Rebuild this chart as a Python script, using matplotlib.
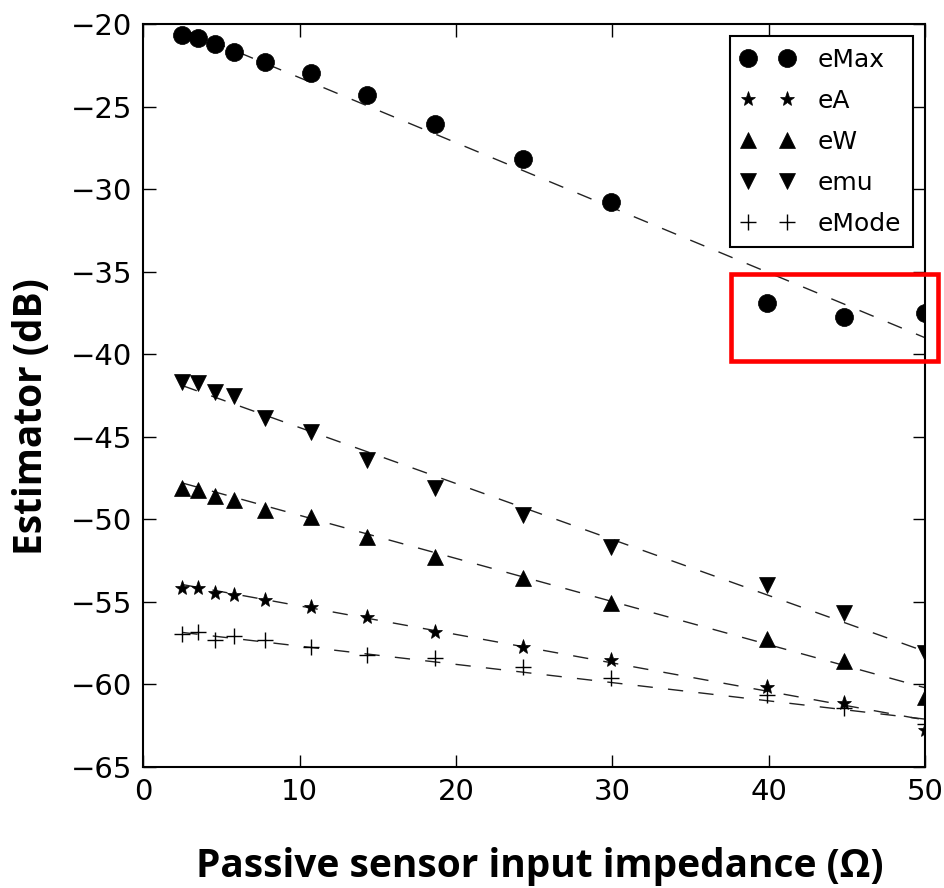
import matplotlib
matplotlib.use("Agg")
import matplotlib.pyplot as plt
from matplotlib.patches import Rectangle

# ---------------- data ----------------
impedance = [2.5, 3.5, 4.6, 5.8, 7.8, 10.7, 14.3, 18.65, 24.3, 29.9, 39.9, 44.8, 50.0]

eMax = [-20.67, -20.87, -21.21, -21.68, -22.28, -22.99, -24.30, -26.06, -28.18, -30.76, -36.92, -37.73, -37.52]
eA = [-54.14, -54.14, -54.44, -54.58, -54.89, -55.29, -55.94, -56.81, -57.72, -58.52, -60.13, -61.14, -62.76]
eW = [-48.12, -48.23, -48.59, -48.83, -49.44, -49.84, -51.05, -52.26, -53.57, -55.05, -57.27, -58.56, -60.74]
emu = [-41.67, -41.77, -42.31, -42.51, -43.88, -44.69, -46.41, -48.12, -49.74, -51.66, -54.00, -55.67, -58.10]
eMode = [-56.95, -56.81, -57.31, -57.07, -57.31, -57.72, -58.22, -58.42, -58.96, -59.63, -60.64, -61.45, -62.40]

series_names = ["eMax", "eA", "eW", "emu", "eMode"]

# fitted trend lines: value at first and last impedance
fit_x = [2.5, 50.0]
fit_eMax = [-20.3, -39.0]
fit_eA = [-53.95, -62.15]
fit_eW = [-47.8, -60.2]
fit_emu = [-41.9, -58.0]
fit_eMode = [-56.85, -62.1]

x_ticks = [0, 10, 20, 30, 40, 50]
y_ticks = [-65, -60, -55, -50, -45, -40, -35, -30, -25, -20]

# ---------------- figure ----------------
W, H = 945, 888
fig = plt.figure(figsize=(W / 100, H / 100), dpi=100)
ax_left, ax_right, ax_top, ax_bottom = 143.3, 925.0, 24.0, 767.0
ax = fig.add_axes([ax_left / W, 1 - ax_bottom / H,
                   (ax_right - ax_left) / W, (ax_bottom - ax_top) / H])

series = [eMax, eA, eW, emu, eMode]
fits = [fit_eMax, fit_eA, fit_eW, fit_emu, fit_eMode]
markers = ["o", "*", "^", "v", "+"]
msizes = [13, 11, 12, 12, 11]

for ys, fy in zip(series, fits):
    ax.plot(fit_x, fy, color="#222222", lw=1.0, dashes=(11, 11), zorder=2)

for name, ys, m, ms in zip(series_names, series, markers, msizes):
    kw = dict(color="black", markeredgecolor="black")
    if m == "+":
        kw["markeredgewidth"] = 1.0
    else:
        kw["markeredgewidth"] = 0.5
    ax.plot(impedance, ys, linestyle="none", marker=m, markersize=ms,
            label=name, zorder=3, **kw)

ax.set_xlim(0, 50)
ax.set_ylim(-65, -20)
ax.set_xticks(x_ticks)
ax.set_yticks(y_ticks)
ax.set_xticklabels([str(v) for v in x_ticks])
ax.set_yticklabels(["\u2212" + str(abs(v)) for v in y_ticks])

ax.tick_params(direction="in", length=9, width=1.0, top=True, right=True,
               labelsize=21, pad=8)
for sp in ax.spines.values():
    sp.set_linewidth(1.5)

leg = ax.legend(loc="upper right", numpoints=2, fontsize=18, frameon=True,
                fancybox=False, framealpha=1.0, edgecolor="black",
                borderaxespad=0.5, borderpad=0.45, labelspacing=0.68,
                handlelength=2.13, handletextpad=0.95)
leg.get_frame().set_linewidth(1.5)

# red highlight box
ax.add_patch(Rectangle((37.62, -40.39), 50.8 - 37.62, -35.14 - (-40.39),
                       fill=False, edgecolor="#ff0000", lw=3.3,
                       clip_on=False, zorder=5))

label_font = ["Open Sans", "DejaVu Sans"]
fig.text(540 / W, 1 - 877 / H, "Passive sensor input impedance (\u03a9)",
         ha="center", va="baseline", fontsize=28, fontweight="bold",
         family=label_font)
fig.text(32 / W, 1 - 417 / H, "Estimator (dB)", rotation=90,
         ha="center", va="center", fontsize=28, fontweight="bold",
         family=label_font)

fig.savefig("out.png", dpi=100)
